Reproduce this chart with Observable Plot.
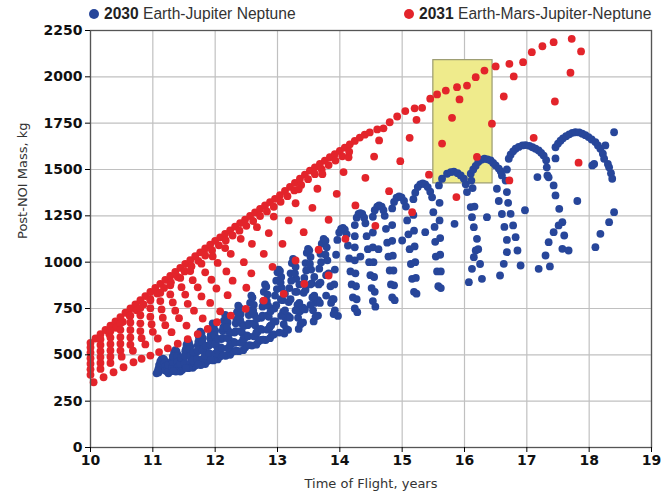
<!DOCTYPE html>
<html><head><meta charset="utf-8">
<script src="https://cdn.jsdelivr.net/npm/d3@7"></script>
<script src="https://cdn.jsdelivr.net/npm/@observablehq/plot@0.6"></script>
<style>
body{margin:0;background:#fff;}
#wrap{width:665px;}
#legend{position:relative;width:665px;height:22px;font-family:"Liberation Sans",Arial,sans-serif;font-size:15.6px;color:#333;line-height:18px;}
#legend .it{position:absolute;top:5px;white-space:nowrap;}
#legend .dot{display:inline-block;width:10px;height:10px;border-radius:50%;vertical-align:0px;margin-right:5px;}
</style></head>
<body><div id="wrap"><div id="legend"></div><div id="chart"></div></div>
<script>
// ---- data ----
const seriesNames = ["2030", "2031"];
const seriesLabels = ["Earth-Jupiter Neptune", "Earth-Mars-Jupiter-Neptune"];
const seriesColors = ["#27469a", "#e3242b"];
const xTicks = [10, 11, 12, 13, 14, 15, 16, 17, 18, 19];
const yTicks = [0, 250, 500, 750, 1000, 1250, 1500, 1750, 2000, 2250];
const boxX = [15.5, 16.45];
const boxY = [1425, 2090];

// 2030 Earth-Jupiter-Neptune: small teeth (11-13.9 years)
const blueTeeth = [
 [11.06,400],[11.09,405],[11.09,425],[11.1,445],[11.12,465],[11.14,476],[11.16,480],[11.18,476],[11.2,462],[11.21,445],[11.22,428],[11.23,410],[11.25,400],[11.26,420],
 [11.29,415],[11.29,440],[11.3,465],[11.32,490],[11.34,515],[11.36,525],[11.38,518],[11.4,500],[11.41,475],[11.42,450],[11.43,428],[11.44,410],[11.46,440],[11.47,418],
 [11.49,430],[11.49,460],[11.5,490],[11.52,520],[11.54,555],[11.56,575],[11.58,566],[11.6,545],[11.61,515],[11.62,485],[11.63,455],[11.64,430],[11.66,470],[11.67,440],
 [11.69,445],[11.69,480],[11.7,515],[11.72,550],[11.74,595],[11.76,625],[11.78,615],[11.8,590],[11.81,555],[11.82,520],[11.83,485],[11.84,450],[11.86,500],[11.87,465],
 [11.89,470],[11.89,510],[11.9,550],[11.92,590],[11.94,640],[11.96,670],[11.98,660],[12.0,630],[12.01,590],[12.02,550],[12.03,510],[12.04,475],[12.06,530],[12.07,490],
 [12.09,495],[12.09,540],[12.1,585],[12.12,630],[12.14,685],[12.16,715],[12.18,705],[12.2,675],[12.21,630],[12.22,585],[12.23,540],[12.24,500],[12.26,560],[12.27,515],
 [12.3,520],[12.3,570],[12.31,620],[12.33,670],[12.35,730],[12.37,765],[12.39,755],[12.41,720],[12.42,670],[12.43,620],[12.44,570],[12.45,525],[12.47,590],[12.48,540],
 [12.51,550],[12.51,605],[12.52,660],[12.54,715],[12.56,780],[12.58,820],[12.6,808],[12.62,770],[12.63,715],[12.64,660],[12.65,605],[12.66,555],[12.68,625],[12.69,570],
 [12.73,580],[12.73,640],[12.74,700],[12.76,760],[12.78,840],[12.8,880],[12.82,868],[12.84,825],[12.85,765],[12.86,705],[12.87,645],[12.88,590],[12.9,660],[12.91,605],
 [12.94,610],[12.94,680],[12.95,750],[12.96,820],[12.98,900],[13.0,945],[13.02,960],[13.04,952],[13.06,920],[13.07,860],[13.08,795],[13.09,730],[13.1,665],[13.11,615],[13.13,700],[13.14,640],
 [13.17,635],[13.17,710],[13.18,785],[13.19,860],[13.21,940],[13.23,995],[13.25,1018],[13.27,1010],[13.29,975],[13.3,910],[13.31,840],[13.32,770],[13.33,700],[13.34,640],[13.36,735],[13.37,665],
 [13.41,675],[13.41,755],[13.42,835],[13.43,915],[13.45,995],[13.47,1050],[13.49,1072],[13.51,1064],[13.53,1028],[13.54,960],[13.55,885],[13.56,810],[13.57,740],[13.58,680],[13.6,780],[13.61,705],
 [13.65,712],[13.65,795],[13.66,880],[13.67,965],[13.69,1045],[13.71,1100],[13.74,1126],[13.77,1116],[13.79,1080],[13.8,1010],[13.82,940],[13.85,870],[13.88,800],[13.92,740],[13.97,710],[13.86,780]
];
// extra dots filling the legs of the teeth
const blueTeethFill = [
 [11.11,416],[11.12,436],[11.13,456],[11.19,456],[11.195,436],[11.2,416],[11.24,428],[11.245,446],[11.08,412],
 [11.31,433],[11.32,462],[11.33,490],[11.39,490],[11.395,462],[11.4,433],[11.44,450],[11.45,485],[11.37,410],[11.33,412],
 [11.51,455],[11.52,492],[11.53,530],[11.59,530],[11.595,492],[11.6,455],[11.64,470],[11.65,515],[11.57,428],[11.53,430],
 [11.71,477],[11.72,523],[11.73,570],[11.79,570],[11.795,523],[11.8,477],[11.84,495],[11.85,550],[11.77,445],[11.73,447],
 [11.91,506],[11.92,557],[11.93,608],[11.99,608],[11.995,557],[12.0,506],[12.04,525],[12.05,585],[11.97,470],[11.93,472],
 [12.11,535],[12.12,591],[12.13,648],[12.19,648],[12.195,591],[12.2,535],[12.24,555],[12.25,620],[12.17,495],[12.13,497],
 [12.32,565],[12.33,628],[12.34,690],[12.4,690],[12.405,628],[12.41,565],[12.45,585],[12.46,655],[12.38,520],[12.34,522],
 [12.53,600],[12.54,669],[12.55,738],[12.61,738],[12.615,669],[12.62,600],[12.66,620],[12.67,695],[12.59,550],[12.55,552],
 [12.75,636],[12.76,712],[12.77,790],[12.83,790],[12.835,712],[12.84,636],[12.88,655],[12.89,735],[12.81,580],[12.77,582],
 [12.97,680],[12.98,768],[12.99,855],[13.05,890],[13.055,800],[13.06,710],[13.12,740],[13.12,830],[13.03,620],
 [13.2,700],[13.21,800],[13.22,900],[13.28,940],[13.285,840],[13.29,740],[13.35,780],[13.35,880],
 [13.44,745],[13.45,850],[13.46,955],[13.52,990],[13.525,880],[13.53,770],[13.59,820],[13.59,920],
 [13.68,780],[13.69,890],[13.7,1000],[13.77,1040],[13.78,930],[13.78,820]
];
// large arches (tops)
const blueTops = [
 [13.9,720],[13.9,800],[13.91,880],[13.92,960],[13.94,1040],[13.96,1120],[13.99,1160],[14.02,1180],[14.05,1185],[14.08,1175],[14.11,1150],
 [14.24,1200],[14.27,1240],[14.3,1260],[14.33,1265],[14.36,1260],[14.39,1240],[14.41,1210],
 [14.53,1245],[14.56,1280],[14.6,1300],[14.63,1306],[14.67,1300],[14.7,1280],[14.72,1250],
 [14.84,1290],[14.87,1325],[14.91,1348],[14.95,1355],[14.99,1350],[15.03,1330],[15.06,1300],
 [15.18,1340],[15.21,1375],[15.25,1405],[15.29,1420],[15.33,1425],[15.37,1420],[15.41,1405],[15.45,1380],[15.48,1350],
 [15.59,1414],[15.64,1450],[15.72,1477],[15.78,1486],[15.83,1488],[15.89,1480],[15.94,1468],[15.99,1450],[16.02,1420],[16.04,1378],
 [16.1,1477],[16.14,1500],[16.18,1520],[16.22,1540],[16.27,1552],[16.32,1558],[16.37,1555],[16.42,1549],[16.46,1535],[16.5,1522],[16.55,1505],[16.58,1490],[16.6,1468],
 [16.71,1558],[16.74,1580],[16.78,1598],[16.82,1612],[16.87,1622],[16.93,1630],[16.98,1632],[17.04,1628],[17.09,1620],[17.14,1612],[17.19,1603],[17.23,1590],[17.27,1575],[17.31,1550],[17.32,1512],
 [17.46,1620],[17.5,1640],[17.54,1655],[17.58,1668],[17.63,1680],[17.68,1690],[17.73,1698],[17.78,1701],[17.84,1700],[17.89,1693],[17.94,1685],[17.99,1675],[18.04,1662],[18.1,1648],[18.14,1630],[18.18,1612],[18.22,1585],[18.24,1558],[18.3,1530],[18.32,1512],[18.35,1480],[18.37,1450]
];
// descending columns between arches
const blueColumns = [
 [14.13,1090],[14.15,1020],[14.17,950],[14.19,880],[14.21,810],[14.24,750],[14.28,730],[14.27,800],[14.26,870],[14.25,940],[14.24,1010],[14.24,1080],[14.24,1140],
 [14.43,1140],[14.45,1070],[14.47,1000],[14.49,930],[14.51,860],[14.53,790],[14.57,760],[14.56,840],[14.55,920],[14.54,1000],[14.53,1080],[14.53,1160],
 [14.74,1180],[14.76,1105],[14.78,1030],[14.8,955],[14.82,880],[14.84,810],[14.88,795],[14.87,875],[14.86,955],[14.85,1035],[14.84,1115],[14.84,1200],
 [15.08,1225],[15.1,1150],[15.12,1070],[15.14,990],[15.16,910],[15.19,840],[15.23,830],[15.22,915],[15.21,1000],[15.2,1085],[15.19,1170],[15.18,1255],
 [15.5,1270],[15.52,1190],[15.53,1110],[15.54,1030],[15.56,950],[15.58,870],[15.62,860],[15.62,950],[15.61,1040],[15.61,1130],[15.6,1225],[15.6,1320],
 [16.1,1297],[16.12,1243],[16.15,1189],[16.2,1126],[16.18,1063],[16.15,1027],[16.12,964],[16.07,892],[16.28,910],[16.25,990],[16.22,1070],[16.16,1300],[16.13,1400],[16.11,1440],
 [16.68,1378],[16.7,1320],[16.74,1261],[16.78,1198],[16.82,1135],[16.85,1063],[16.9,982],[16.52,1396],[16.55,1330],[16.6,1260],[16.64,1190],[16.68,1120],[16.68,1054],[16.63,991],[16.57,928],[16.68,1500],[16.66,1440],
 [17.35,1458],[17.43,1414],[17.46,1360],[17.52,1288],[17.57,1216],[17.6,1144],[17.57,1072],[17.67,1063],[17.51,1198],[17.43,1162],[17.35,1108],[17.3,1036],[17.19,964],[17.37,977],[17.17,1459],[17.33,1468],[17.46,1560],
 [18.4,1270],[18.32,1216],[18.18,1153],[18.1,1081]
];
const blueScatter = [
 [14.33,1030],[14.62,1070],[15.0,1117],[15.37,1162],[15.84,1207],[16.36,1243],[16.97,1280],[17.81,1330],
 [18.4,1701],[18.26,1630],[18.05,1522],[18.08,1530]
];

// 2031 Earth-Mars-Jupiter-Neptune: upper envelope and lower families
const redEnvelope = [
 [10.0,565],[10.08,588],[10.16,611],[10.24,634],[10.32,657],[10.4,680],[10.48,704],[10.56,727],[10.64,750],[10.72,772],[10.8,795],[10.88,817],[10.96,839],
 [11.04,861],[11.12,883],[11.2,904],[11.28,926],[11.36,947],[11.44,969],[11.52,990],[11.6,1011],[11.68,1032],[11.76,1053],[11.84,1074],[11.92,1094],
 [12.0,1115],[12.08,1134],[12.16,1153],[12.24,1172],[12.32,1192],[12.4,1211],[12.48,1230],[12.56,1249],[12.64,1268],[12.72,1287],[12.8,1306],[12.88,1324],[12.96,1342],
 [13.04,1362],[13.12,1384],[13.2,1406],[13.28,1428],[13.36,1450],[13.44,1472],[13.52,1494],[13.6,1512],[13.68,1530],[13.76,1548],[13.84,1566],[13.92,1583],
 [14.0,1600],[14.08,1618],[14.16,1636],[14.24,1654],[14.32,1672],[14.4,1688],[14.48,1700],[14.6,1716],[14.7,1722],[14.8,1755],[14.92,1786],[15.05,1815],
 [15.2,1830],[15.32,1833],[15.45,1882],[15.56,1905],[15.7,1926],[15.88,1944],[16.04,1953],[16.18,1998],[16.32,2034],[16.5,2056],[16.72,2070],[16.94,2079],
 [17.08,2133],[17.25,2165],[17.43,2187],[17.72,2205],[17.87,2137]
];
const redEnvelope2 = [
 [10.3,614],[10.41,646],[10.52,678],[10.63,710],[10.74,740],[10.85,772],[10.96,801],[11.07,831],[11.18,861],[11.29,891],[11.4,920],[11.51,950],
 [11.62,978],[11.73,1007],[11.84,1036],[11.95,1064],[12.06,1091],[12.17,1117],[12.28,1144],[12.39,1170],[12.5,1196],[12.61,1222],[12.72,1249],
 [12.83,1274],[12.94,1299],[13.05,1326],[13.16,1356],[13.27,1387],[13.38,1417],[13.49,1448],[13.6,1475],[13.71,1500],[13.82,1524],[13.93,1548],[14.04,1571],[14.15,1596]
];
const redFamily1 = [[10.0,540],[10.16,584],[10.32,628],[10.48,670],[10.64,712],[10.8,753],[10.96,795],[11.12,835],[11.28,875],[11.44,915],[11.6,952],[11.78,992],[11.96,1031],[12.16,1076],[12.41,1126],[12.67,1189],[12.94,1246],[13.29,1318],[13.64,1396],[14.06,1486],[14.55,1570]];
const redFamily2 = [[10.0,512],[10.16,553],[10.32,593],[10.48,635],[10.64,675],[10.8,714],[10.96,752],[11.12,790],[11.28,826],[11.46,865],[11.64,903],[11.84,945],[12.04,996],[12.25,1045],[12.59,1099],[12.86,1157],[13.18,1225],[13.56,1293],[13.95,1369],[14.41,1455]];
const redFamily3 = [[10.0,482],[10.16,520],[10.32,558],[10.48,596],[10.64,634],[10.8,670],[10.96,706],[11.14,745],[11.32,783],[11.52,825],[11.72,864],[11.94,905],[12.18,950],[12.46,1000],[12.78,1045],[13.08,1099],[13.42,1162],[13.82,1229],[14.25,1306],[14.79,1383]];
const redFamily4 = [[10.0,452],[10.16,488],[10.32,524],[10.48,560],[10.64,594],[10.8,628],[10.98,665],[11.16,700],[11.36,738],[11.56,775],[11.78,815],[12.02,858],[12.28,900],[12.58,940],[12.92,975],[13.29,1009],[13.66,1067],[14.09,1126],[14.57,1196],[15.16,1270]];
const redFamily5 = [[10.0,422],[10.16,456],[10.32,490],[10.48,523],[10.64,555],[10.82,590],[11.0,624],[11.2,660],[11.42,698],[11.66,738],[11.92,780],[12.2,822],[12.5,862]];
const redFamily6 = [[10.0,392],[10.16,424],[10.32,456],[10.5,490],[10.68,522],[10.88,556],[11.08,588],[11.3,622],[11.54,658],[11.8,696],[12.08,735]];
const redFamily7 = [[10.05,352],[10.21,379],[10.37,406],[10.53,433],[10.69,460],[10.82,479],[10.96,496],[11.1,515],[11.24,535],[11.4,560],[11.56,585],[11.72,612],[11.88,640],[12.03,676],[12.25,712],[12.49,748],[12.78,793],[13.1,829],[13.43,883],[13.82,928]];
const redScatter = [
 [13.34,1393],[13.72,1475],[14.14,1566],[14.63,1657],[15.12,1671],[15.23,1768],[14.97,1545],[15.43,1472],[15.87,1351],
 [15.64,1640],[15.8,1779],[15.92,1878],[16.2,1568],[16.44,1747],[16.63,1894],[16.79,2002],[16.72,1441],
 [17.11,1671],[17.45,1867],[17.7,2022],[17.83,1537]
];

// ---- build tables ----
const toRows = (arr, s) => arr.map(([x, y]) => ({x, y, s}));
const blue = [...blueTeeth, ...blueTeethFill, ...blueTops, ...blueColumns, ...blueScatter];
const red = [...redEnvelope, ...redEnvelope2, ...redFamily1, ...redFamily2, ...redFamily3, ...redFamily4, ...redFamily5, ...redFamily6, ...redFamily7, ...redScatter];
const blueRows = toRows(blue, seriesNames[0]);
const redRows = toRows(red, seriesNames[1]);

// legend
const legend = document.getElementById("legend");
const lpos = [89, 404];
seriesNames.forEach((n, i) => {
  const d = document.createElement("div");
  d.className = "it";
  d.style.left = lpos[i] + "px";
  d.innerHTML = `<span class="dot" style="background:${seriesColors[i]}"></span><b style="color:#222">${n}</b> ${seriesLabels[i]}`;
  legend.appendChild(d);
});

const chart = Plot.plot({
  width: 665,
  height: 474,
  marginLeft: 90,
  marginRight: 14,
  marginTop: 8,
  marginBottom: 49,
  style: {fontFamily: "DejaVu Sans", background: "#fff"},
  x: {domain: [10, 19]},
  y: {domain: [0, 2250]},
  marks: [
    Plot.gridX(xTicks, {stroke: "#c0c0c0", strokeOpacity: 1, strokeWidth: 1.2}),
    Plot.gridY(yTicks, {stroke: "#c0c0c0", strokeOpacity: 1, strokeWidth: 1.2}),
    Plot.rect([{x1: boxX[0], x2: boxX[1], y1: boxY[0], y2: boxY[1]}], {x1: "x1", x2: "x2", y1: "y1", y2: "y2", fill: "#efeb8c", stroke: "#9a9a70", strokeWidth: 1.2}),
    Plot.dot(blueRows, {x: "x", y: "y", r: 3.9, fill: seriesColors[0], stroke: "none"}),
    Plot.dot(redRows, {x: "x", y: "y", r: 3.9, fill: seriesColors[1], stroke: "none"}),
    Plot.frame({stroke: "#555", strokeWidth: 1.3}),
    Plot.axisX(xTicks, {tickSize: 5, tickPadding: 3, fontSize: 14, fontWeight: "bold", fill: "#111", label: null, tickFormat: d3.format("d")}),
    Plot.axisY(yTicks, {tickSize: 5, tickPadding: 3, fontSize: 14, fontWeight: "bold", fill: "#111", label: null, tickFormat: d3.format("d")}),
    Plot.text(["Time of Flight, years"], {frameAnchor: "bottom", dy: 40, fontSize: 13, fill: "#333"}),
    Plot.text(["Post-NOI Mass, kg"], {frameAnchor: "left", rotate: -90, dx: -68, fontSize: 13, fill: "#333"})
  ]
});
document.getElementById("chart").appendChild(chart);
</script>
</body></html>
